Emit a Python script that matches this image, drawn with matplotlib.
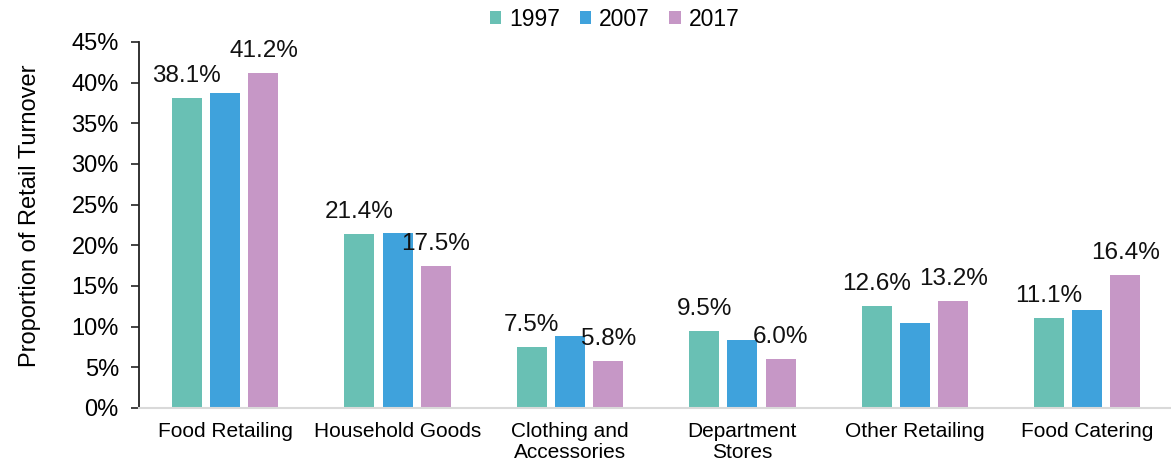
import numpy as np
import matplotlib
matplotlib.use("Agg")
import matplotlib.pyplot as plt

# Share of retail turnover by sector (%)
categories = ["Food Retailing", "Household Goods", "Clothing and\nAccessories",
              "Department\nStores", "Other Retailing", "Food Catering"]
years = ["1997", "2007", "2017"]
share_1997 = [38.1, 21.4, 7.5, 9.5, 12.6, 11.1]
share_2007 = [38.7, 21.5, 8.8, 8.3, 10.5, 12.1]
share_2017 = [41.2, 17.5, 5.8, 6.0, 13.2, 16.4]
y_ticks = [0, 5, 10, 15, 20, 25, 30, 35, 40, 45]

colors = ["#69c0b4", "#3fa2dc", "#c697c6"]
labelled = [True, False, True]   # only first and last year get value labels

plt.rcParams["font.family"] = ["Liberation Sans", "DejaVu Sans"]

fig = plt.figure(figsize=(11.71, 4.67), dpi=100)
ax = fig.add_axes([139 / 1171, 1 - 408 / 467, 1034.4 / 1171, (408 - 42) / 467])

x = np.arange(len(categories))
width = 0.174
step = 0.222
series = [share_1997, share_2007, share_2017]

for i, (vals, col, year) in enumerate(zip(series, colors, years)):
    pos = x + (i - 1) * step
    bars = ax.bar(pos, vals, width=width, color=col, label=year, zorder=2)
    if labelled[i]:
        for b, v in zip(bars, vals):
            ax.annotate(f"{v:.1f}%", (b.get_x() + b.get_width() / 2, v),
                        xytext=(0, 11.5), textcoords="offset points",
                        ha="center", va="baseline", fontsize=17.5, color="#111111")

ax.set_xlim(-0.5, len(categories) - 0.5)
ax.set_ylim(0, 45)
ax.set_yticks(y_ticks)
ax.set_yticklabels([f"{t}%" for t in y_ticks])
ax.set_xticks(x)
ax.set_xticklabels(categories, fontsize=15, linespacing=1.15)

ax.tick_params(axis="y", length=5.5, width=1.2, pad=9, labelsize=17, color="#222222")
ax.tick_params(axis="x", length=0, pad=10)

for s in ["top", "right"]:
    ax.spines[s].set_visible(False)
ax.spines["left"].set_color("#222222")
ax.spines["left"].set_linewidth(1.3)
ax.spines["bottom"].set_color("#d9d9d9")
ax.spines["bottom"].set_linewidth(1.5)

fig.text(30 / 1171, 1 - 216 / 467, "Proportion of Retail Turnover", rotation=90,
         ha="center", va="center", fontsize=17)

fig.legend(loc="center", bbox_to_anchor=(0.525, 1 - 19 / 467), ncol=3, frameon=False,
           fontsize=16.5, handlelength=0.5, handleheight=0.5, handletextpad=0.35,
           columnspacing=0.85, borderaxespad=0)

fig.savefig("out.png", dpi=100)
